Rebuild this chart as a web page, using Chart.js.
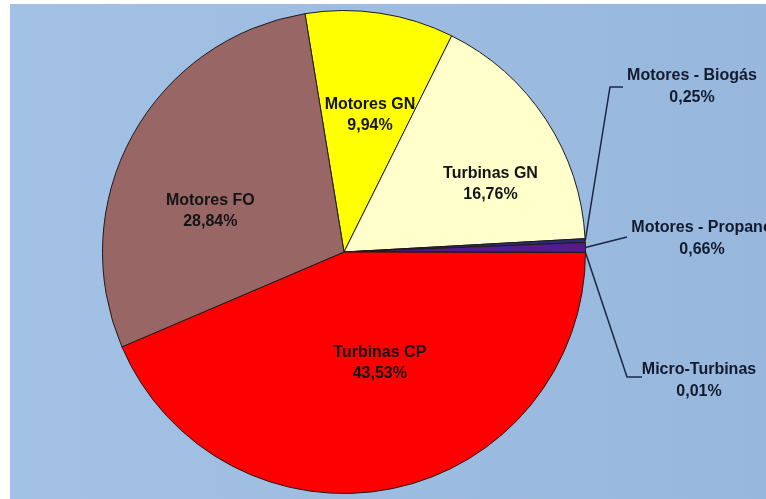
<!DOCTYPE html>
<html>
<head>
<meta charset="utf-8">
<script src="https://cdn.jsdelivr.net/npm/chart.js@4.4.1/dist/chart.umd.min.js"></script>
<style>
  html, body { margin: 0; padding: 0; background: #ffffff; width: 766px; height: 499px; overflow: hidden; }
  #wrap { position: absolute; left: 10px; top: 4px; width: 756px; height: 495px;
          background: linear-gradient(to right, #a2c1e5, #98b7dc); }
  canvas { display: block; }
</style>
</head>
<body>
<div id="wrap"><canvas id="c" width="756" height="495"></canvas></div>
<script>
// ---- data ----
const categories = ["Motores GN", "Turbinas GN", "Motores - Biogás", "Motores - Propano", "Micro-Turbinas", "Turbinas CP", "Motores FO"];
const shares = [9.94, 16.76, 0.25, 0.66, 0.01, 43.53, 28.84];
const sliceColors = ["#ffff00", "#ffffcc", "#2b2b7a", "#551a8b", "#ff99cc", "#ff0000", "#996666"];

function fmtPct(v) { return v.toFixed(2).replace('.', ',') + '%'; }

// label placement (style only)
const insideLabels = {
  0: { frac: 0.58, nudge: 2.1 },
  1: { frac: 0.67, nudge: 8.2 },
  5: { frac: 0.48, nudge: -6.5 },
  6: { frac: 0.58, nudge: -11.4 }
};
const outsideLabels = {
  2: { path: [[266, -165], [279, -165]], text: [348, -176] },
  3: { path: [[283, -15]], text: [358, -24] },
  4: { path: [[283, 125], [298, 125]], text: [355, 118] }
};

const labelPlugin = {
  id: 'sliceLabels',
  afterDatasetsDraw(chart) {
    const ctx = chart.ctx;
    const meta = chart.getDatasetMeta(0);
    const data = chart.data.datasets[0].data;
    const labels = chart.data.labels;
    ctx.save();
    ctx.font = 'bold 16px "Liberation Sans", Arial, sans-serif';
    ctx.textAlign = 'center';
    ctx.textBaseline = 'middle';
    meta.data.forEach((arc, i) => {
      const cx = arc.x, cy = arc.y, r = arc.outerRadius;
      const mid = (arc.startAngle + arc.endAngle) / 2;
      if (insideLabels[i]) {
        const o = insideLabels[i];
        const a = mid + o.nudge * Math.PI / 180;
        const px = cx + Math.cos(a) * r * o.frac;
        const py = cy + Math.sin(a) * r * o.frac;
        ctx.fillStyle = '#141414';
        ctx.fillText(labels[i], px, py - 10);
        ctx.fillText(fmtPct(data[i]), px, py + 11);
      } else if (outsideLabels[i]) {
        const o = outsideLabels[i];
        ctx.strokeStyle = '#1b2747';
        ctx.lineWidth = 1.5;
        ctx.beginPath();
        ctx.moveTo(cx + Math.cos(mid) * r, cy + Math.sin(mid) * r);
        o.path.forEach(p => ctx.lineTo(cx + p[0], cy + p[1]));
        ctx.stroke();
        ctx.fillStyle = '#111a2e';
        const tx = cx + o.text[0], ty = cy + o.text[1];
        ctx.fillText(labels[i], tx, ty);
        ctx.fillText(fmtPct(data[i]), tx, ty + 22);
      }
    });
    ctx.restore();
  }
};

new Chart(document.getElementById('c'), {
  type: 'pie',
  data: {
    labels: categories,
    datasets: [{
      data: shares,
      backgroundColor: sliceColors,
      borderColor: '#1e1a1a',
      borderWidth: 1
    }]
  },
  options: {
    responsive: false,
    animation: false,
    rotation: -9.3,
    layout: { padding: { left: 92, right: 180, top: 6, bottom: 5 } },
    plugins: {
      legend: { display: false },
      tooltip: { enabled: false }
    }
  },
  plugins: [labelPlugin]
});
</script>
</body>
</html>
